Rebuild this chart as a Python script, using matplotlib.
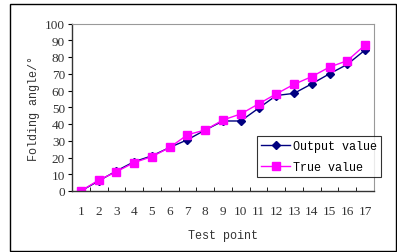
import matplotlib
matplotlib.use("Agg")
import matplotlib.pyplot as plt
from matplotlib.patches import Rectangle

# Datos
test_points = list(range(1, 18))
output_value = [0, 6, 12, 17.5, 21, 26, 30.6, 36.4, 41.8, 41.8, 49.4, 57, 58.3, 64, 70, 75.6, 84.2]
true_value = [0, 6.5, 11.5, 17, 20.5, 26, 33.6, 36.4, 42.4, 46, 52, 58, 63.7, 68.3, 74, 77.8, 87.2]

W, H = 397, 253
fig = plt.figure(figsize=(W / 100, H / 100), dpi=100)
fig.patch.set_facecolor("white")

# marco exterior de la figura
fig.patches.append(Rectangle((10 / W, 1 - 252 / H), 386 / W, 247 / H,
                             transform=fig.transFigure, fill=False,
                             edgecolor="black", linewidth=1.0))

ax = fig.add_axes([72 / W, 1 - 192 / H, 302 / W, 167.5 / H])
mono = "Liberation Mono"
serif = "Liberation Serif"

ax.plot(test_points, output_value, color="#000080", marker="D", markersize=4.5,
        linewidth=1.0, label="Output value")
ax.plot(test_points, true_value, color="#FF00FF", marker="s", markersize=5.5,
        linewidth=1.0, label="True value")

ax.set_xlim(0.5, 17.5)
ax.set_ylim(0, 100)
ax.set_yticks(range(0, 101, 10))
ax.set_xticks(test_points)
ax.set_xticks([i + 0.5 for i in range(0, 18)], minor=True)
ax.tick_params(axis="x", which="major", length=0, pad=10, labelsize=9.5)
ax.tick_params(axis="x", which="minor", length=3, direction="in")
ax.tick_params(axis="y", length=3, direction="out", pad=2, labelsize=9.5)
for lab in ax.get_xticklabels() + ax.get_yticklabels():
    lab.set_fontfamily(serif)
    lab.set_color("#333333")

for side in ("top", "right"):
    ax.spines[side].set_color("#999999")
    ax.spines[side].set_linewidth(0.8)
for side in ("left", "bottom"):
    ax.spines[side].set_color("#333333")
    ax.spines[side].set_linewidth(1.0)

ax.set_xlabel("Test point", fontfamily=mono, fontsize=8.5, color="#333333", labelpad=9)
ax.set_ylabel("Folding angle/°", fontfamily=mono, fontsize=8.5, color="#333333", labelpad=4)

leg = ax.legend(loc="upper left", bbox_to_anchor=((256.7 - 72) / 302, (192 - 137) / 167.5),
                prop={"family": mono, "size": 8.5}, frameon=True, fancybox=False,
                handlelength=2.5, handletextpad=0.2, borderpad=0.35,
                labelspacing=0.75, borderaxespad=0)
leg.get_frame().set_edgecolor("black")
leg.get_frame().set_linewidth(0.8)

fig.savefig("out.png", dpi=100)
plt.close(fig)
